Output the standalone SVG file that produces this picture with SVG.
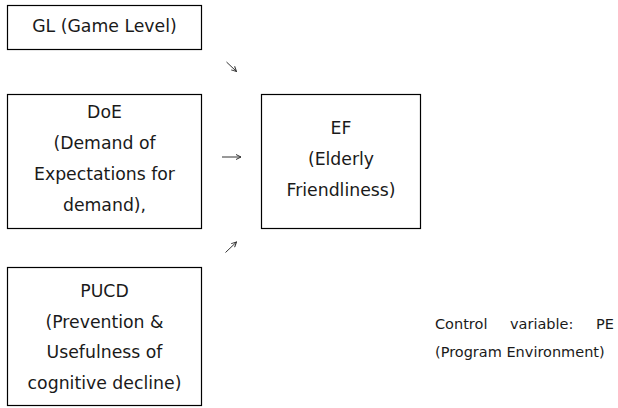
<svg xmlns="http://www.w3.org/2000/svg" width="618" height="408" viewBox="0 0 618 408">
<defs>
<style>
.box{fill:#fff;stroke:#000;stroke-width:1.2}
.t{font-family:"DejaVu Sans","Noto Sans",sans-serif;font-size:17.3px;fill:#1a1a1a;text-anchor:middle}
.s{font-family:"DejaVu Sans","Noto Sans",sans-serif;font-size:14.5px;fill:#1a1a1a}
.c{fill:none;stroke:#333;stroke-width:1}
</style>
<marker id="ah" viewBox="0 0 6 6" refX="5.5" refY="3" markerWidth="6" markerHeight="6" markerUnits="userSpaceOnUse" orient="auto">
<path d="M0.5,0.5 L5.5,3 L0.5,5.5" fill="none" stroke="#333" stroke-width="1"/>
</marker>
</defs>
<rect width="618" height="408" fill="#fff"/>
<g id="GL">
<rect class="box" x="7.5" y="5.5" width="194" height="44"/>
<text class="t" x="104.5" y="32">GL (Game Level)</text>
</g>
<g id="DoE">
<rect class="box" x="7.5" y="94.5" width="194" height="134"/>
<text class="t" x="104.5" y="118">DoE</text>
<text class="t" x="104.5" y="149">(Demand of</text>
<text class="t" x="104.5" y="180">Expectations for</text>
<text class="t" x="104.5" y="211">demand),</text>
</g>
<g id="EF">
<rect class="box" x="261.5" y="94.5" width="159" height="134"/>
<text class="t" x="341" y="134">EF</text>
<text class="t" x="341" y="165">(Elderly</text>
<text class="t" x="341" y="196">Friendliness)</text>
</g>
<g id="PUCD">
<rect class="box" x="7.5" y="267.5" width="194" height="138"/>
<text class="t" x="104.5" y="297">PUCD</text>
<text class="t" x="104.5" y="328">(Prevention &amp;</text>
<text class="t" x="104.5" y="358">Usefulness of</text>
<text class="t" x="104.5" y="389">cognitive decline)</text>
</g>
<g id="control">
<text class="s" y="329"><tspan x="435">Control</tspan><tspan x="510">variable:</tspan><tspan x="614" text-anchor="end">PE</tspan></text>
<text class="s" x="435" y="357">(Program Environment)</text>
</g>
<g id="connectors">
<path class="c" d="M226.5,62 L236.5,71.5" marker-end="url(#ah)"/>
<path class="c" d="M222,157 L241,157" marker-end="url(#ah)"/>
<path class="c" d="M225.5,252.5 L236.5,242" marker-end="url(#ah)"/>
</g>
</svg>
